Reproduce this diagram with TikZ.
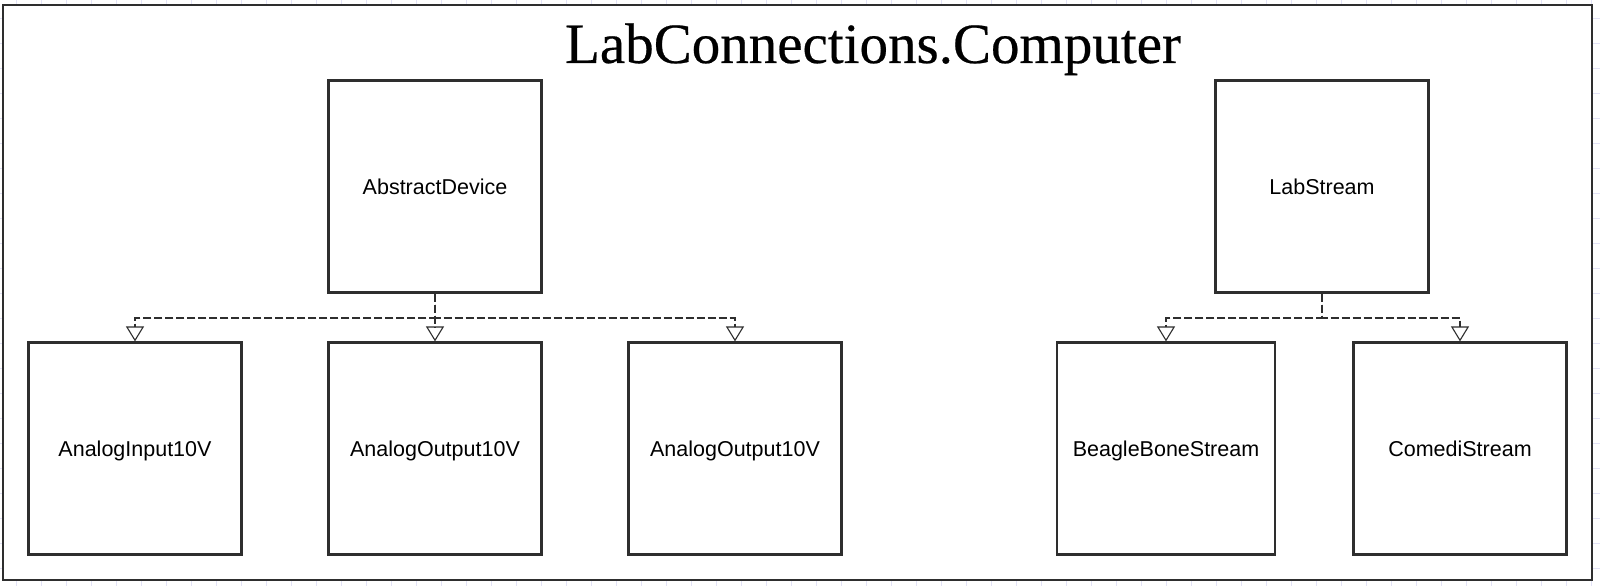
\documentclass[tikz,border=0pt]{standalone}
\usepackage{fontspec}
\setmainfont{Liberation Serif}
\setsansfont{Liberation Sans}
\newfontfamily\pkgfont[FakeBold=0.4]{Liberation Serif}
\usepackage{xcolor}
\usetikzlibrary{arrows.meta,positioning}

\definecolor{umlline}{HTML}{2E2E2E}
\definecolor{sheetgrid}{RGB}{226,226,246}

\begin{document}
\begin{tikzpicture}[
  x=1pt,
  y=-1pt,
  >={Triangle[open, length=15pt, width=18pt]},
  gridline/.style={draw=sheetgrid, line width=0.6pt},
  frame/.style={draw=umlline, line width=2.2pt, fill=white},
  pkgtitle/.style={font=\pkgfont\fontsize{57}{60}\selectfont, anchor=base},
  cls/.style={draw=umlline, line width=2.2pt, fill=white,
    minimum width=213pt, minimum height=212pt, inner xsep=16pt,
    text height=15.5pt, text depth=0pt,
    font=\sffamily\fontsize{21.5}{24}\selectfont},
  realize/.style={->, draw=umlline, line width=1.1pt, dash pattern=on 8pt off 3pt}
]
\useasboundingbox (0,0) rectangle (1600,586);

% Sheet grid behind the package frame.
\foreach \gx in {16.7,41.7,...,1600} \draw[gridline] (\gx,0) -- (\gx,586);
\foreach \gy in {18.3,43.3,...,586} \draw[gridline] (0,\gy) -- (1600,\gy);

% Package frame and its name.
\draw[frame] (3,5) rectangle (1592,580);
\node[pkgtitle] (pkg) at (873,63) {LabConnections.Computer};

% Abstract classes on the top row.
\node[cls] (dev) at (435,186.5) {AbstractDevice};
\node[cls] (stream) at (1322,186.5) {LabStream};

% Implementations on the bottom row.
\node[cls] (ain) at (135,448.5) {AnalogInput10V};
\node[cls] (aoutA) at (435,448.5) {AnalogOutput10V};
\node[cls] (aoutB) at (735,448.5) {AnalogOutput10V};
\node[cls] (bbs) at (1166,448.5) {BeagleBoneStream};
\node[cls] (cds) at (1460,448.5) {ComediStream};

% Realization arrows share one bus per parent.
\coordinate (devbus) at (435,318);
\coordinate (streambus) at (1322,318);
\foreach \kid in {ain,aoutA,aoutB}
  \draw[realize] (dev.south) -- (devbus) -| (\kid.north);
\foreach \kid in {bbs,cds}
  \draw[realize] (stream.south) -- (streambus) -| (\kid.north);

\end{tikzpicture}
\end{document}
